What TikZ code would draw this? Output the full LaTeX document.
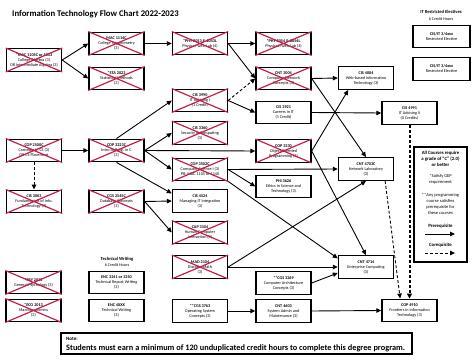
\documentclass[tikz,border=0pt]{standalone}
\usepackage{fontspec}
\setmainfont{Carlito}
\usetikzlibrary{arrows.meta}
\definecolor{xred}{RGB}{200,30,70}
\begin{document}
\begin{tikzpicture}[x=1pt,y=-1pt,
 course/.style={draw, line width=1.4pt, minimum width=55pt, minimum height=22.5pt, inner sep=0pt, align=center, font=\fontsize{4.2}{5}\selectfont},
 con/.style={line width=0.9pt, -{Triangle[length=5pt,width=4.5pt]}},
 dcon/.style={con, dash pattern=on 3pt off 2pt},
 tdcon/.style={line width=2pt, dash pattern=on 3pt off 2pt, -{Triangle[length=5pt,width=5pt]}},
 xcross/.style={xred, line width=1.2pt},
 hdr/.style={font=\fontsize{4.6}{5.5}\selectfont\bfseries, inner sep=0pt},
 sub/.style={font=\fontsize{4.2}{5}\selectfont, inner sep=0pt},
 leg/.style={font=\fontsize{4.5}{6}\selectfont, align=center, inner sep=0pt}
]
\useasboundingbox (0,0) rectangle (474,361);

\node[anchor=west, font=\fontsize{8.7}{10}\selectfont\bfseries, inner sep=0pt] (title) at (12,14) {Information Technology Flow Chart 2022-2023};

% restricted electives
\node[hdr] (rhdr) at (441,12) {IT Restricted Electives};
\node[sub] (rsub) at (441,19) {6 Credit Hours};
\node[course, minimum width=57pt] (re1) at (441.5,36.5) {\textbf{CIS/IT 3/4xxx}\\Restricted Elective};
\node[course, minimum width=57pt] (re2) at (441.5,69) {\textbf{CIS/IT 3/4xxx}\\Restricted Elective};

% row 1
\node[course] (mac1105) at (34,60) {\textbf{*MAC 1105C or 1033}\\College Algebra (3)\\OR Intermediate Algebra (3)};
\node[course] (mac1114) at (116.5,43.5) {\textbf{MAC 1114C}\\College Trigonometry\\(3)};
\node[course] (sta2023) at (116.5,78.5) {\textbf{*STA 2023}\\Statistical Methods\\(3)};
\node[course] (phy2053) at (200,43.5) {\textbf{*PHY 2053 \& 2053L}\\Physics I with Lab (4)};
\node[course] (phy2054) at (283.5,43.5) {\textbf{*PHY 2054 \& 2054L}\\Physics II with Lab (4)};
\node[course] (cnt3004) at (283.5,78.5) {\textbf{CNT 3004}\\Computer Network\\Concepts (3)};
\node[course] (cis3990) at (200,100.5) {\textbf{CIS 3990}\\IT Advising I\\(1 Credit)};
\node[course] (cis3921) at (283.5,112.5) {\textbf{CIS 3921}\\Careers in IT\\(1 Credit)};
\node[course] (cis4004) at (366,78) {\textbf{CIS 4004}\\Web-based Information\\Technology (3)};
\node[course] (cis4991) at (409.5,113) {\textbf{CIS 4991}\\IT Advising II\\(0 Credits)};

% row 2
\node[course] (cop2500) at (34,150.5) {\textbf{COP 2500C}\\Concepts in CS (3)\\OR CS Placement};
\node[course] (cop3223) at (116.5,150.5) {\textbf{COP 3223C}\\Intro to Prog. in C\\(3)};
\node[course] (cis3003) at (34,201.5) {\textbf{CIS 3003}\\Fundamentals of Info.\\Technology (3)};
\node[course] (cgs2545) at (116.5,201.5) {\textbf{CGS 2545C}\\Database Concepts\\(3)};
\node[course] (cis3360) at (200,133) {\textbf{CIS 3360}\\Security in Computing\\(3)};
\node[course] (cop3330) at (283.5,151) {\textbf{COP 3330}\\Object Oriented\\Programming (3)};
\node[course] (cop3502) at (200,169.5) {\textbf{COP 3502C}\\Computer Science I (3)\\PR: MAC 1105 or 1140};
\node[course] (phi3626) at (283.5,186.5) {\textbf{PHI 3626}\\Ethics in Science and\\Technology (3)};
\node[course] (cis4524) at (200,201) {\textbf{CIS 4524}\\Managing IT Integration\\(3)};
\node[course] (cap3104) at (200,232.5) {\textbf{CAP 3104}\\Human Computer\\Interaction (3)};
\node[course] (cnt4703) at (366,169) {\textbf{CNT 4703C}\\Network Laboratory\\(3)};

% lower rows
\node[course] (mad2104) at (200,267) {\textbf{MAD 2104}\\Discrete Math\\(3)};
\node[course] (cnt4714) at (366,267) {\textbf{CNT 4714}\\Enterprise Computing\\(3)};
\node[course] (cgs3269) at (283.5,283) {\textbf{**CGS 3269}\\Computer Architecture\\Concepts (3)};
\node[course] (cgs3763) at (200,311) {\textbf{**CGS 3763}\\Operating System\\Concepts (3)};
\node[course] (cnt4603) at (283.5,311) {\textbf{CNT 4603}\\System Admin and\\Maintenance (3)};
\node[course] (cop4910) at (409.5,310.5) {\textbf{COP 4910}\\Frontiers in Information\\Technology (3)};

\node[hdr] (twhdr) at (117,259) {Technical Writing};
\node[sub] (twsub) at (117,265.5) {6 Credit Hours};
\node[course] (enc3241) at (116.5,282.5) {\textbf{ENC 3241 or 3250}\\Technical Report Writing\\(3)};
\node[course] (enc4xxx) at (116.5,310.5) {\textbf{ENC 4XXX}\\Technical Writing\\(3)};
\node[course] (psy2012) at (33.5,282.5) {\textbf{*PSY 2012}\\General Psychology (3)};
\node[course] (eco2013) at (33.5,310.5) {\textbf{*ECO 2013}\\Macroeconomics\\(3)};

% note
\node[draw, line width=1.6pt, minimum width=351pt, minimum height=21pt, inner sep=0pt] (note) at (236.5,343.5) {};
\node[anchor=west, font=\fontsize{5}{6}\selectfont\bfseries, inner sep=0pt] (notelbl) at (66,338.5) {Note:};
\node[anchor=west, font=\fontsize{8.3}{9}\selectfont\bfseries, inner sep=0pt] (notetxt) at (66,348) {Students must earn a minimum of 120 unduplicated credit hours to complete this degree program.};

% legend
\node[draw, line width=1.4pt, minimum width=53pt, minimum height=115pt, inner sep=0pt] (legend) at (440.5,204.5) {};
\node[leg, font=\fontsize{4.8}{6}\selectfont\bfseries] (l1) at (440.5,159) {All Courses require\\a grade of ``C'' (2.0)\\or better};
\node[leg] (l2) at (440.5,179) {*Satisfy GEP\\requirement};
\node[leg] (l3) at (440.5,204) {**Any programming\\course satisfies\\prerequisite for\\these courses};
\node[leg, font=\fontsize{4.8}{6}\selectfont\bfseries] (l4) at (440.5,226) {Prerequisite};
\coordinate (pa) at (425,234);
\coordinate (pb) at (455,234);
\node[leg, font=\fontsize{4.8}{6}\selectfont\bfseries] (l5) at (440.5,245) {Corequisite};
\coordinate (ca) at (425,253);
\coordinate (cb) at (455,253);
\draw[con] (pa) -- (pb);
\draw[dcon] (ca) -- (cb);

% crosses
\foreach \n in {mac1105,mac1114,sta2023,phy2053,phy2054,cnt3004,cis3990,cop2500,cop3223,cis3003,cgs2545,cis3360,cop3330,cop3502,cap3104,mad2104,psy2012,eco2013}{
  \draw[xcross] (\n.north west) -- (\n.south east) (\n.north east) -- (\n.south west);
}

% connectors
\draw[con] (mac1105.east) -- (mac1114.west);
\draw[con] (mac1105.east) -- (sta2023.west);
\draw[con] (mac1114.east) -- (phy2053.west);
\draw[con] (phy2053.east) -- (phy2054.west);
\draw[con] (phy2053.east) -- (cnt3004.west);
\draw[dcon] (cis3990.east) -- (cnt3004.west);
\draw[con] (cis3990.east) -- (cis3921.west);
\draw[con] (cnt3004.east) -- (cis4004.west);
\draw[con] (cnt3004.east) -- (cnt4703.north);
\draw[con] (cis3921.east) -- (cis4991.west);
\draw[con] (cop3330.east) -- (cis4004.214);
\draw[con] (cop3330.east) -- (cnt4714.north);
\draw[con] (cop2500.east) -- (cop3223.west);
\draw[dcon] (cop2500.south) -- (cis3003.north);
\draw[con] (cop3223.north) -- (cis3990.west);
\draw[con] (cop3223.east) -- (cis3360.west);
\draw[con] (cop3223.east) -- (cop3330.west);
\draw[con] (cop3223.east) -- (cop3502.west);
\draw[con] (cop3223.south) -- (cis4524.165);
\draw[con] (cgs2545.east) -- (cis4524.west);
\draw[con] (cgs2545.east) -- (cap3104.west);
\draw[con] (cop3502.east) -- (cnt4703.west);
\draw[con] (cop3502.east) -- (phi3626.west);
\draw[con] (cop3502.south east) -- (cnt4714.163);
\draw[con] (mad2104.east) -- (cnt4703.south);
\draw[con] (mad2104.east) -- (cnt4714.west);
\draw[con] (cgs3269.east) -- (cnt4714.192);
\draw[con] (cgs3763.east) -- (cnt4603.west);
\draw[con] (cnt4603.east) -- (cop4910.west);
\draw[dcon] (cnt4703.-32) -- (cop4910.128);
\draw[tdcon] (cis4991.south) -- (cop4910.north);
\end{tikzpicture}
\end{document}
